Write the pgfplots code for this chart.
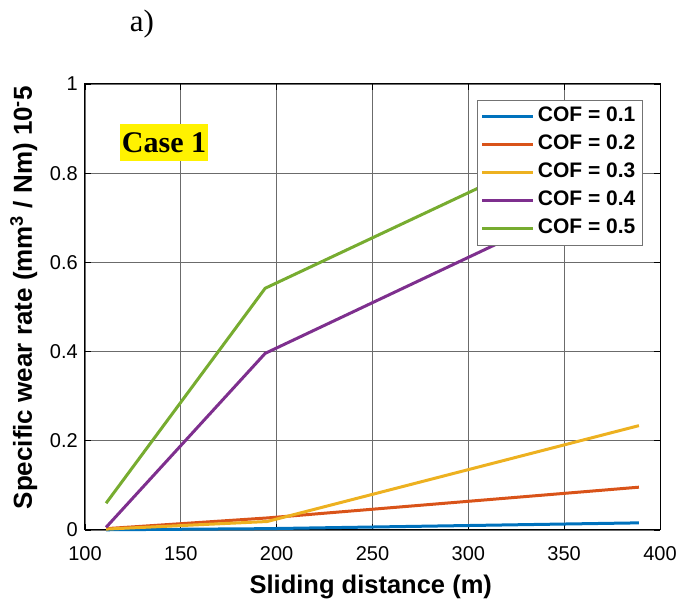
\documentclass[border=0pt]{standalone}
\usepackage{fontspec}
\setmainfont{Liberation Sans}
\newfontfamily\timesfont{Liberation Serif}
\usepackage{pgfplots}
\pgfplotsset{compat=1.18}
\definecolor{c1}{rgb}{0,0.447,0.741}
\definecolor{c2}{rgb}{0.850,0.325,0.098}
\definecolor{c3}{rgb}{0.929,0.694,0.125}
\definecolor{c4}{rgb}{0.494,0.184,0.556}
\definecolor{c5}{rgb}{0.466,0.674,0.188}
\begin{document}
\begin{tikzpicture}
\begin{axis}[
  scale only axis, width=575pt, height=446pt,
  xmin=100, xmax=400, ymin=0, ymax=1,
  clip=false,
  xtick={100,150,200,250,300,350,400},
  ytick={0,0.2,0.4,0.6,0.8,1},
  yticklabels={0,0.2,0.4,0.6,0.8,1},
  xticklabels={100,150,200,250,300,350,400},
  grid=major,
  major grid style={black!58, line width=0.8pt},
  tick align=inside, major tick length=6pt,
  tick style={black, line width=0.8pt},
  axis line style={black, line width=1pt},
  ticklabel style={font=\fontsize{20}{24}\selectfont},
  xticklabel style={inner sep=0pt, yshift=-16pt},
  yticklabel style={inner sep=0pt, xshift=-7pt},
  xlabel={Sliding distance (m)},
  xlabel style={font=\bfseries\fontsize{25.5}{30}\selectfont, at={(axis description cs:0.497,-0.1435)}, anchor=base},
  ylabel={Specific wear rate (mm\textsuperscript{3} / Nm) 10\textsuperscript{-}5},
  ylabel style={font=\bfseries\fontsize{26}{31}\selectfont, at={(axis description cs:-0.0922,0.521)}, anchor=base, rotate=0},
  legend style={at={(0.970,0.964)}, anchor=north east, draw=black!55, line width=0.8pt, fill=white,
    font=\bfseries\fontsize{21}{25}\selectfont, inner xsep=4pt, inner ysep=3pt, row sep=1.5pt,
    nodes={inner xsep=3pt, inner ysep=4pt, text height=14.5pt, text depth=4pt}},
  legend cell align=left,
  legend image code/.code={\draw[#1, line width=3pt] (0pt,0pt) -- (51pt,0pt);},
]
\addplot[c1, line width=3pt] coordinates {(111,0.0005) (195,0.003) (389,0.016)};
\addlegendentry{COF = 0.1}
\addplot[c2, line width=3pt] coordinates {(111,0.003) (195,0.027) (389,0.096)};
\addlegendentry{COF = 0.2}
\addplot[c3, line width=3pt] coordinates {(111,0.002) (195,0.019) (389,0.234)};
\addlegendentry{COF = 0.3}
\addplot[c4, line width=3pt] coordinates {(111,0.006) (194,0.396) (389,0.792)};
\addlegendentry{COF = 0.4}
\addplot[c5, line width=3pt] coordinates {(111,0.060) (194,0.542) (389,0.936)};
\addlegendentry{COF = 0.5}
\node[fill=yellow, font=\timesfont\bfseries\fontsize{30}{36}\selectfont, inner xsep=2pt, inner ysep=0pt, minimum height=37pt] at (axis description cs:0.1374,0.8688) {Case 1};
\node[font=\timesfont\fontsize{31}{37}\selectfont, anchor=base] at (axis description cs:0.099,1.117) {a)};
\end{axis}
\pgfresetboundingbox
\path[use as bounding box] (-85pt,-71pt) rectangle (594pt,530pt);
\end{tikzpicture}
\end{document}
